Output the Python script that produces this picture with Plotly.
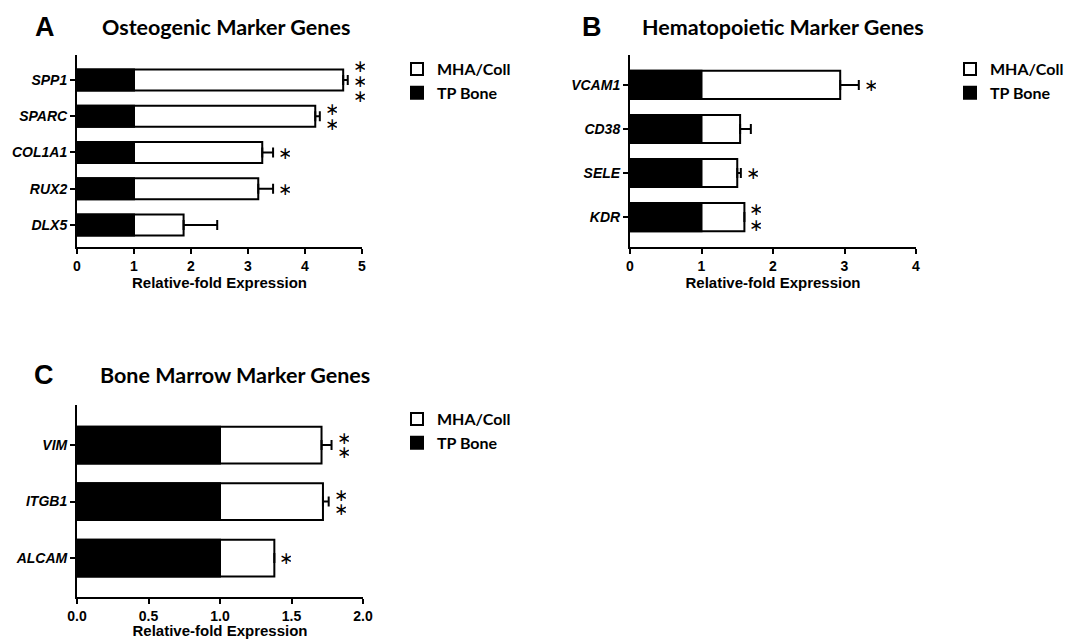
import plotly.graph_objects as go

W, H = 1069, 639

# ---------------- data ----------------
genes_a = ["SPP1", "SPARC", "COL1A1", "RUX2", "DLX5"]
mha_a = [4.67, 4.18, 3.25, 3.18, 1.87]
err_a = [0.08, 0.08, 0.19, 0.26, 0.59]
tp_a = [1, 1, 1, 1, 1]
sig_a = [3, 2, 1, 1, 0]

genes_b = ["VCAM1", "CD38", "SELE", "KDR"]
mha_b = [2.94, 1.54, 1.50, 1.60]
err_b = [0.26, 0.15, 0.05, 0.0]
tp_b = [1, 1, 1, 1]
sig_b = [1, 0, 1, 2]

genes_c = ["VIM", "ITGB1", "ALCAM"]
mha_c = [1.71, 1.72, 1.38]
err_c = [0.07, 0.04, 0.0]
tp_c = [1, 1, 1]
sig_c = [2, 2, 1]

titles = ["Osteogenic Marker Genes", "Hematopoietic Marker Genes", "Bone Marrow Marker Genes"]
letters = ["A", "B", "C"]
series_names = ["MHA/Coll", "TP Bone"]
x_title = "Relative-fold Expression"

# ---------------- layout helpers ----------------
def px_x(p):
    return p / W

def px_y(p):
    return 1 - p / H

panels = [
    dict(genes=genes_a, mha=mha_a, err=err_a, tp=tp_a, sig=sig_a,
         xdom=[px_x(77), px_x(362)], ydom=[px_y(247), px_y(55)],
         xrange=[0, 5], tickvals=[0, 1, 2, 3, 4, 5], ticktext=["0", "1", "2", "3", "4", "5"],
         yrange=[4.61, -0.69], bw=0.58, star_sp=15,
         legend=dict(x=px_x(397), y=px_y(52))),
    dict(genes=genes_b, mha=mha_b, err=err_b, tp=tp_b, sig=sig_b,
         xdom=[px_x(630), px_x(916)], ydom=[px_y(247), px_y(55)],
         xrange=[0, 4], tickvals=[0, 1, 2, 3, 4], ticktext=["0", "1", "2", "3", "4"],
         yrange=[3.68, -0.68], bw=0.64, star_sp=16,
         legend=dict(x=px_x(950), y=px_y(52))),
    dict(genes=genes_c, mha=mha_c, err=err_c, tp=tp_c, sig=sig_c,
         xdom=[px_x(77), px_x(363)], ydom=[px_y(597), px_y(405)],
         xrange=[0, 2], tickvals=[0, 0.5, 1, 1.5, 2], ticktext=["0.0", "0.5", "1.0", "1.5", "2.0"],
         yrange=[2.69, -0.71], bw=0.65, star_sp=14,
         legend=dict(x=px_x(397), y=px_y(402))),
]

title_pos = [
    dict(lx=45, ly=27, tx=226, ty=27),
    dict(lx=592, ly=27, tx=783, ty=27),
    dict(lx=44, ly=375, tx=235, ty=375),
]

arial = "Arial, Liberation Sans, sans-serif"
tick_font = dict(family=arial, size=14, color="black", weight="bold")
title_font = dict(family="Lato, Open Sans, sans-serif", size=21.5, color="black", weight="bold")

fig = go.Figure()
annotations = []
layout = dict(width=W, height=H, margin=dict(l=0, r=0, t=0, b=0, autoexpand=False),
              paper_bgcolor="white", plot_bgcolor="white",
              barmode="overlay", showlegend=True)

for i, p in enumerate(panels):
    sfx = "" if i == 0 else str(i + 1)
    xa, ya = "x" + sfx, "y" + sfx
    lg = "legend" + sfx
    fig.add_trace(go.Bar(
        y=p["genes"], x=p["mha"], orientation="h", name=series_names[0],
        marker=dict(color="white", line=dict(color="black", width=2)),
        width=p["bw"],
        error_x=dict(type="data", array=p["err"], arrayminus=[0] * len(p["err"]),
                     symmetric=False, color="black", thickness=2, width=5),
        xaxis=xa, yaxis=ya, legend=lg, hoverinfo="skip"))
    fig.add_trace(go.Bar(
        y=p["genes"], x=p["tp"], orientation="h", name=series_names[1],
        marker=dict(color="black", line=dict(color="black", width=2)),
        width=p["bw"],
        xaxis=xa, yaxis=ya, legend=lg, hoverinfo="skip"))

    layout["xaxis" + sfx] = dict(
        domain=p["xdom"], anchor=ya, range=p["xrange"], tickvals=p["tickvals"], ticktext=p["ticktext"],
        showline=True, linecolor="black", linewidth=2, ticks="outside", ticklen=5, tickwidth=2,
        tickcolor="black", showgrid=False, zeroline=False, tickfont=tick_font, automargin=False,
        title=dict(text=x_title, font=dict(family=arial, size=15, color="black", weight="bold"),
                   standoff=4))
    layout["yaxis" + sfx] = dict(
        domain=p["ydom"], anchor=xa, type="category", categoryorder="array",
        categoryarray=p["genes"], range=p["yrange"], automargin=False,
        showline=True, linecolor="black", linewidth=2, ticks="outside", ticklen=5, tickwidth=2,
        tickcolor="black", showgrid=False, zeroline=False,
        tickfont=dict(family=arial, size=14, color="black", weight="bold", style="italic"))
    layout[lg] = dict(x=p["legend"]["x"], y=p["legend"]["y"], xanchor="left", yanchor="top",
                      bgcolor="rgba(0,0,0,0)", traceorder="normal",
                      font=dict(family="Lato, Open Sans, sans-serif", size=16, color="black", weight="bold"),
                      itemwidth=30, tracegroupgap=0)

    # significance asterisks
    for g, v, e, n in zip(p["genes"], p["mha"], p["err"], p["sig"]):
        for k in range(n):
            off = (k - (n - 1) / 2) * p["star_sp"]
            annotations.append(dict(
                x=v + e, y=g, xref=xa, yref=ya, text="∗", showarrow=False,
                xanchor="center", yanchor="middle", xshift=12, yshift=-off,
                height=p["star_sp"] - 2, width=10, valign="middle",
                font=dict(family="DejaVu Sans", size=17, color="black")))

    tp = title_pos[i]
    annotations.append(dict(x=px_x(tp["lx"]), y=px_y(tp["ly"]), xref="paper", yref="paper",
                            text=letters[i], showarrow=False, xanchor="center", yanchor="middle",
                            font=dict(family=arial, size=27, color="black", weight="bold")))
    annotations.append(dict(x=px_x(tp["tx"]), y=px_y(tp["ty"]), xref="paper", yref="paper",
                            text=titles[i], showarrow=False, xanchor="center", yanchor="middle",
                            font=title_font))

layout["annotations"] = annotations
fig.update_layout(**layout)
fig.write_html("out.html", config={"displayModeBar": False},
               post_script="document.body.style.margin='0';document.body.style.overflow='hidden';")
